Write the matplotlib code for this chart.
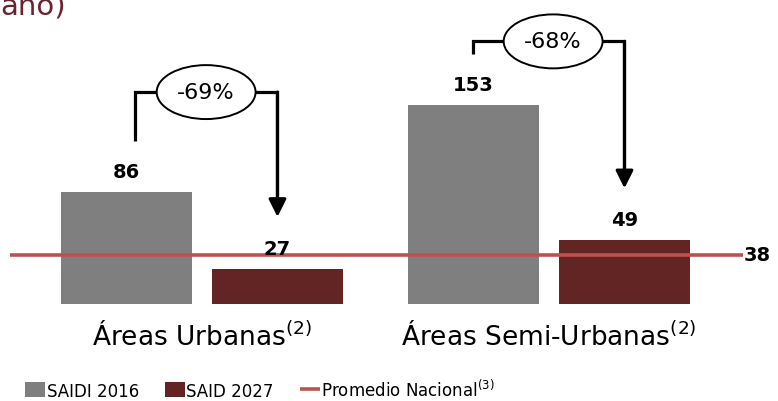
import matplotlib.pyplot as plt
from matplotlib.patches import Ellipse

# Data
categories = ['Áreas Urbanas', 'Áreas Semi-Urbanas']
saidi_2016 = [86, 153]
said_2027 = [27, 49]
promedio_nacional = 38
reductions = ['-69%', '-68%']
series_labels = ['SAIDI 2016', 'SAID 2027', 'Promedio Nacional$^{(3)}$']

GRAY = '#7F7F7F'
MAROON = '#632523'
LINE_RED = '#C0504D'
TITLE_COLOR = '#6B2332'

fig = plt.figure(figsize=(7.78, 4.02), dpi=100)
ax = fig.add_axes([0, 0.2413, 1, 0.7587])

x = list(range(len(categories)))
off = 0.2176
w = 0.3775
b1 = ax.bar([i - off for i in x], saidi_2016, w, color=GRAY)
b2 = ax.bar([i + off for i in x], said_2027, w, color=MAROON)

# national average line
ln = ax.hlines(promedio_nacional, -0.553, 1.559, color=LINE_RED, lw=2.6, zorder=3)
ax.text(1.562, promedio_nacional, str(promedio_nacional), ha='left', va='center',
        fontsize=14, fontweight='bold')

# value labels
for i in x:
    for xi, v in ((i - off, saidi_2016[i]), (i + off, said_2027[i])):
        ax.annotate(str(v), (xi, v), xytext=(0, 11), textcoords='offset points',
                    ha='center', va='baseline', fontsize=14, fontweight='bold',
                    zorder=4)

# reduction brackets
left_shift = [0.025, 0.0]
rise = [77, 49]
for i in x:
    xl = i - off + left_shift[i]
    xr = i + off
    top = saidi_2016[i] + rise[i]
    low = saidi_2016[i] + 39
    tip = said_2027[i] + 40
    ax.plot([xl, xl, xr, xr], [low, top, top, tip + 10], color='black', lw=2.3,
            solid_joinstyle='miter', solid_capstyle='butt', zorder=2)
    ax.annotate('', xy=(xr, tip), xytext=(xr, top),
                arrowprops=dict(arrowstyle='-|>,head_length=0.7,head_width=0.35',
                                mutation_scale=15, color='black', lw=2.3,
                                shrinkA=0, shrinkB=0), zorder=2)
    ax.add_patch(Ellipse((i + 0.012, top), 0.285, 41.5, facecolor='white',
                         edgecolor='black', lw=1.4, zorder=5))
    ax.text(i + 0.012, top, reductions[i], ha='center', va='center', fontsize=16,
            zorder=6)

ax.set_xlim(-0.582, 1.660)
ax.set_ylim(0, 234.6)
ax.set_xticks(x)
ax.set_xticklabels([c + '$^{(2)}$' for c in categories], fontsize=19)
ax.tick_params(axis='x', length=0, pad=12)
ax.set_yticks([])
for s in ax.spines.values():
    s.set_visible(False)

leg = ax.legend([b1, b2, ln], series_labels, loc='center left',
                bbox_to_anchor=(0.032, 0.03), bbox_transform=fig.transFigure,
                ncol=3, frameon=False, borderaxespad=0, borderpad=0,
                handlelength=1.2, handleheight=1.0, handletextpad=0.1,
                columnspacing=1.55, prop={'size': 12})

# clipped title fragment from the slide
fig.text(66 / 778, 1 - 15 / 402, 'año)', ha='right', va='baseline', fontsize=21,
         color=TITLE_COLOR)

fig.savefig('out.png', dpi=100)
